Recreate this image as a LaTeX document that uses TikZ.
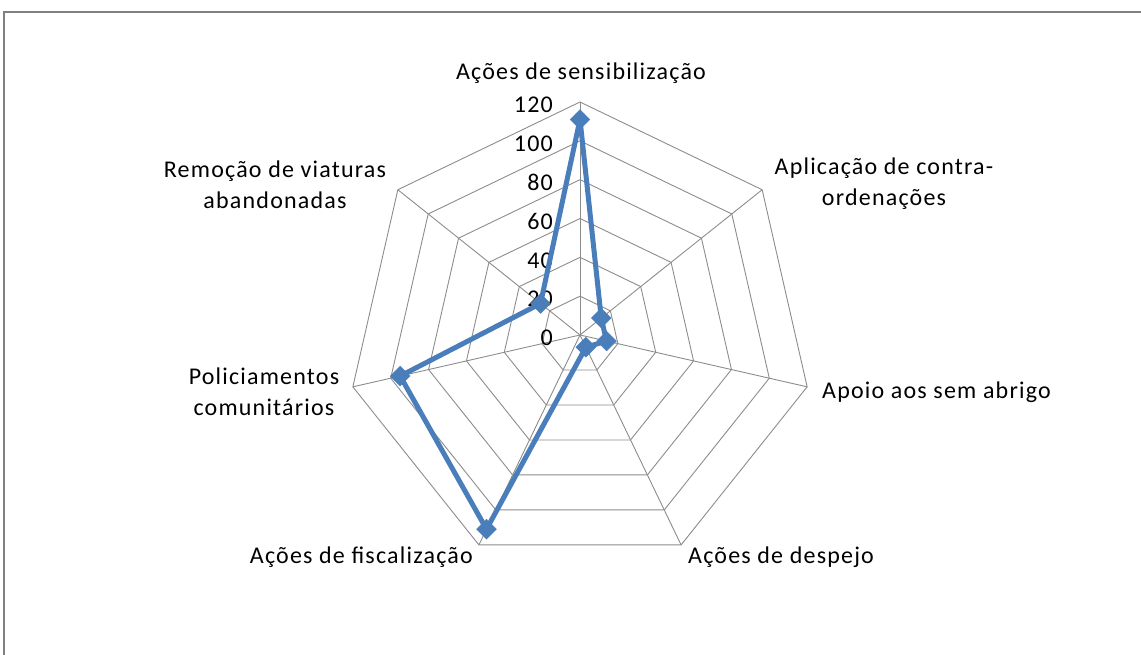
\documentclass[tikz,border=0pt]{standalone}
\usepackage{fontspec}
\setmainfont{Carlito}[LetterSpace=5]
\usetikzlibrary{shapes.geometric,calc}
\definecolor{serie}{HTML}{4A7EBB}
\definecolor{gridc}{HTML}{8C8C8C}
\definecolor{framec}{HTML}{808080}
\begin{document}
\begin{tikzpicture}[x=1pt,y=-1pt,
  font=\fontsize{24}{31}\selectfont,
  gridline/.style={draw=gridc,line width=0.9pt},
  frameline/.style={draw=framec,line width=2pt},
  serieline/.style={draw=serie,line width=5pt,line join=round},
  marker/.style={diamond,fill=serie,draw=serie,inner sep=0pt,minimum size=20pt},
  axlabel/.style={inner sep=0pt,align=center},
  tick/.style={inner sep=0pt,anchor=east}]
\useasboundingbox (0,0) rectangle (1141,655);
\draw[frameline] (3.5,655) -- (3.5,12.5) -- (1141,12.5);
\coordinate (O) at (580,335);
% rings
\foreach \k in {1,...,6}{
  \draw[gridline] ($(O)+(-90:{\k*233/6})$)
    \foreach \i in {1,...,6}{ -- ($(O)+({\i*360/7-90}:{\k*233/6})$) } -- cycle;
}
% spokes
\foreach \i in {0,...,6}{
  \coordinate (v\i) at ($(O)+({\i*360/7-90}:233)$);
  \draw[gridline] (O) -- (v\i);
}
% tick labels
\foreach \k/\t in {0/0,1/20,2/40,3/60,4/80,5/100,6/120}{
  \node[tick] (t\k) at (553,{335-\k*233/6+3}) {\t};
}
% data
\foreach \i/\v in {0/111,1/14,2/14,3/7,4/111,5/95,6/26}{
  \coordinate (p\i) at ($(O)+({\i*360/7-90}:{\v/120*233})$);
}
\draw[serieline] (p0) -- (p1) -- (p2) -- (p3) -- (p4) -- (p5) -- (p6) -- cycle;
\foreach \i in {0,...,6}{ \node[marker] (m\i) at (p\i) {}; }
% axis labels
\node[axlabel] (l0) at (581,73) {Ações de sensibilização};
\node[axlabel] (l1) at (884,184) {Aplicação de contra-\\ordenações};
\node[axlabel,anchor=west] (l2) at (822,392) {Apoio aos sem abrigo};
\node[axlabel,anchor=west] (l3) at (688,557) {Ações de despejo};
\node[axlabel,anchor=east] (l4) at (473,557) {Ações de fiscalização};
\node[axlabel] (l5) at (264,392) {Policiamentos\\comunitários};
\node[axlabel] (l6) at (275,185) {Remoção de viaturas\\abandonadas};
\end{tikzpicture}
\end{document}
